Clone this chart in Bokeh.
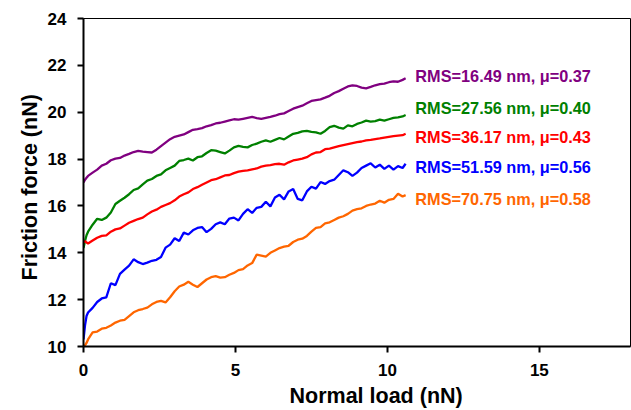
from bokeh.plotting import figure
from bokeh.models import FixedTicker, ColumnDataSource, Title
from bokeh.core.properties import value
from bokeh.embed import file_html
from bokeh.resources import INLINE

# Normal load (nN)
load = [0, 0.05, 0.1, 0.15, 0.3, 0.45, 0.6, 0.75, 0.9, 1.05, 1.2, 1.35, 1.5, 1.65, 1.8, 1.95,
        2.1, 2.25, 2.4, 2.55, 2.7, 2.85, 3.0, 3.15, 3.3, 3.45, 3.6, 3.75, 3.9, 4.05, 4.2, 4.35,
        4.5, 4.65, 4.8, 4.95, 5.1, 5.25, 5.4, 5.55, 5.7, 5.85, 6.0, 6.15, 6.3, 6.45, 6.6, 6.75,
        6.9, 7.05, 7.2, 7.35, 7.5, 7.65, 7.8, 7.95, 8.1, 8.25, 8.4, 8.55, 8.7, 8.85, 9.0, 9.15,
        9.3, 9.45, 9.6, 9.75, 9.9, 10.05, 10.2, 10.35, 10.5, 10.6]

# Friction force (nN) per surface
f_rms16 = [17.00, 17.12, 17.2, 17.28, 17.42, 17.55, 17.72, 17.8, 17.95, 18.02,
           18.05, 18.15, 18.22, 18.3, 18.35, 18.32, 18.3, 18.28, 18.4, 18.55,
           18.7, 18.85, 18.95, 19.0, 19.05, 19.15, 19.25, 19.28, 19.32, 19.4,
           19.45, 19.52, 19.55, 19.6, 19.65, 19.7, 19.68, 19.72, 19.76, 19.8,
           19.75, 19.72, 19.76, 19.8, 19.85, 19.92, 19.95, 20.05, 20.15, 20.22,
           20.28, 20.38, 20.48, 20.52, 20.55, 20.62, 20.7, 20.82, 20.9, 21.0,
           21.1, 21.15, 21.12, 21.05, 21.02, 21.08, 21.15, 21.2, 21.22, 21.28,
           21.32, 21.3, 21.38, 21.45]
f_rms27 = [14.2, 14.5, 14.75, 14.9, 15.2, 15.45, 15.4, 15.5, 15.72, 16.08,
           16.22, 16.35, 16.5, 16.68, 16.75, 16.92, 17.08, 17.15, 17.28, 17.35,
           17.52, 17.62, 17.72, 17.92, 17.96, 18.02, 17.94, 18.08, 18.12, 18.26,
           18.38, 18.36, 18.3, 18.24, 18.36, 18.5, 18.56, 18.52, 18.5, 18.6,
           18.66, 18.74, 18.8, 18.74, 18.82, 18.9, 18.84, 18.96, 19.08, 19.12,
           19.18, 19.2, 19.16, 19.14, 19.08, 19.2, 19.36, 19.42, 19.34, 19.3,
           19.44, 19.4, 19.5, 19.56, 19.64, 19.6, 19.62, 19.68, 19.64, 19.7,
           19.76, 19.78, 19.82, 19.88]
f_rms36 = [14.45, 14.5, 14.44, 14.4, 14.52, 14.64, 14.72, 14.74, 14.9, 15.0,
           15.04, 15.16, 15.28, 15.36, 15.44, 15.5, 15.64, 15.76, 15.84, 15.96,
           16.04, 16.12, 16.24, 16.4, 16.5, 16.58, 16.72, 16.8, 16.9, 17.0,
           17.1, 17.14, 17.22, 17.3, 17.32, 17.4, 17.46, 17.5, 17.52, 17.56,
           17.6, 17.68, 17.72, 17.74, 17.78, 17.8, 17.76, 17.86, 17.94, 17.98,
           18.02, 18.08, 18.2, 18.28, 18.3, 18.42, 18.45, 18.5, 18.55, 18.6,
           18.64, 18.68, 18.72, 18.75, 18.8, 18.82, 18.85, 18.88, 18.92, 18.95,
           18.98, 19.0, 19.02, 19.08]
f_rms51 = [10.3, 10.9, 11.3, 11.45, 11.65, 11.9, 12.05, 12.1, 12.7, 12.62,
           13.1, 13.28, 13.45, 13.72, 13.6, 13.52, 13.58, 13.66, 13.7, 13.82,
           14.22, 14.35, 14.62, 14.5, 14.86, 14.78, 14.96, 15.06, 15.1, 14.88,
           15.02, 15.22, 15.3, 15.22, 15.46, 15.5, 15.38, 15.66, 15.86, 15.7,
           15.92, 15.96, 16.18, 15.98, 16.36, 16.48, 16.28, 16.62, 16.72, 16.3,
           16.24, 16.62, 16.82, 16.74, 17.02, 16.94, 17.06, 17.12, 17.32, 17.52,
           17.44, 17.28, 17.42, 17.62, 17.72, 17.82, 17.64, 17.76, 17.58, 17.72,
           17.55, 17.7, 17.62, 17.8]
f_rms70 = [10.0, 10.05, 10.15, 10.3, 10.6, 10.64, 10.76, 10.8, 10.9, 11.02,
           11.1, 11.14, 11.3, 11.46, 11.55, 11.6, 11.66, 11.8, 11.9, 11.95,
           11.88, 12.1, 12.36, 12.56, 12.64, 12.76, 12.64, 12.54, 12.7, 12.86,
           12.96, 13.0, 12.94, 12.96, 13.06, 13.14, 13.26, 13.3, 13.46, 13.56,
           13.92, 13.88, 13.84, 14.0, 14.1, 14.2, 14.26, 14.3, 14.46, 14.56,
           14.6, 14.72, 14.9, 15.06, 15.1, 15.26, 15.3, 15.4, 15.5, 15.56,
           15.66, 15.8, 15.86, 15.9, 16.0, 16.06, 16.1, 16.22, 16.14, 16.26,
           16.3, 16.52, 16.4, 16.46]

series = [f_rms16, f_rms27, f_rms36, f_rms51, f_rms70]
colors = ["#800080", "#008000", "#ff0000", "#0000ff", "#ff6600"]
label_texts = ["RMS=16.49 nm, \u03bc=0.37", "RMS=27.56 nm, \u03bc=0.40",
               "RMS=36.17 nm, \u03bc=0.43", "RMS=51.59 nm, \u03bc=0.56",
               "RMS=70.75 nm, \u03bc=0.58"]
label_x = [10.92, 10.92, 10.92, 10.92, 10.92]
label_y = [21.55, 20.2, 18.93, 17.65, 16.3]
x_ticks = [0, 5, 10, 15]
y_ticks = [10, 12, 14, 16, 18, 20, 22, 24]
x_title = "Normal load (nN)"
y_title = "Friction force (nN)"

FONT = "Liberation Sans"

p = figure(width=631, height=410, x_range=(0, 18), y_range=(10, 24),
           output_backend="svg", toolbar_location=None,
           min_border_left=83, min_border_right=1, min_border_top=18, min_border_bottom=64)
p.grid.visible = False
p.outline_line_color = "black"
p.outline_line_width = 1
p.background_fill_color = "white"
p.border_fill_color = "white"

for ys, c in zip(series, colors):
    p.line(load, ys, line_color=c, line_width=2.3)

src = ColumnDataSource(dict(x=label_x, y=label_y, t=label_texts, c=colors))
p.text(x="x", y="y", text="t", text_color="c", source=src,
       text_font=value(FONT), text_font_style="bold", text_font_size="16.3px",
       text_baseline="middle", text_align="left")

for ax in (p.xaxis[0], p.yaxis[0]):
    ax.axis_line_width = 2
    ax.axis_line_color = "black"
    ax.major_tick_line_width = 2
    ax.major_tick_line_color = "black"
    ax.major_tick_out = 6
    ax.major_tick_in = 0
    ax.minor_tick_line_color = None
    ax.major_label_text_font = FONT
    ax.major_label_text_font_style = "bold"
    ax.major_label_text_font_size = "17px"
    ax.major_label_text_color = "black"

p.xaxis[0].ticker = FixedTicker(ticks=x_ticks)
p.yaxis[0].ticker = FixedTicker(ticks=y_ticks)
p.xaxis[0].major_label_standoff = 11
p.yaxis[0].major_label_standoff = 11

tx = Title(text=x_title, align="left", offset=206, standoff=6,
           text_font=FONT, text_font_style="bold", text_font_size="21.5px", text_color="black")
ty = Title(text=y_title, align="left", offset=66, standoff=6,
           text_font=FONT, text_font_style="bold", text_font_size="21.5px", text_color="black")
p.add_layout(tx, "below")
p.add_layout(ty, "left")

open("out.html", "w").write(file_html(p, INLINE))
